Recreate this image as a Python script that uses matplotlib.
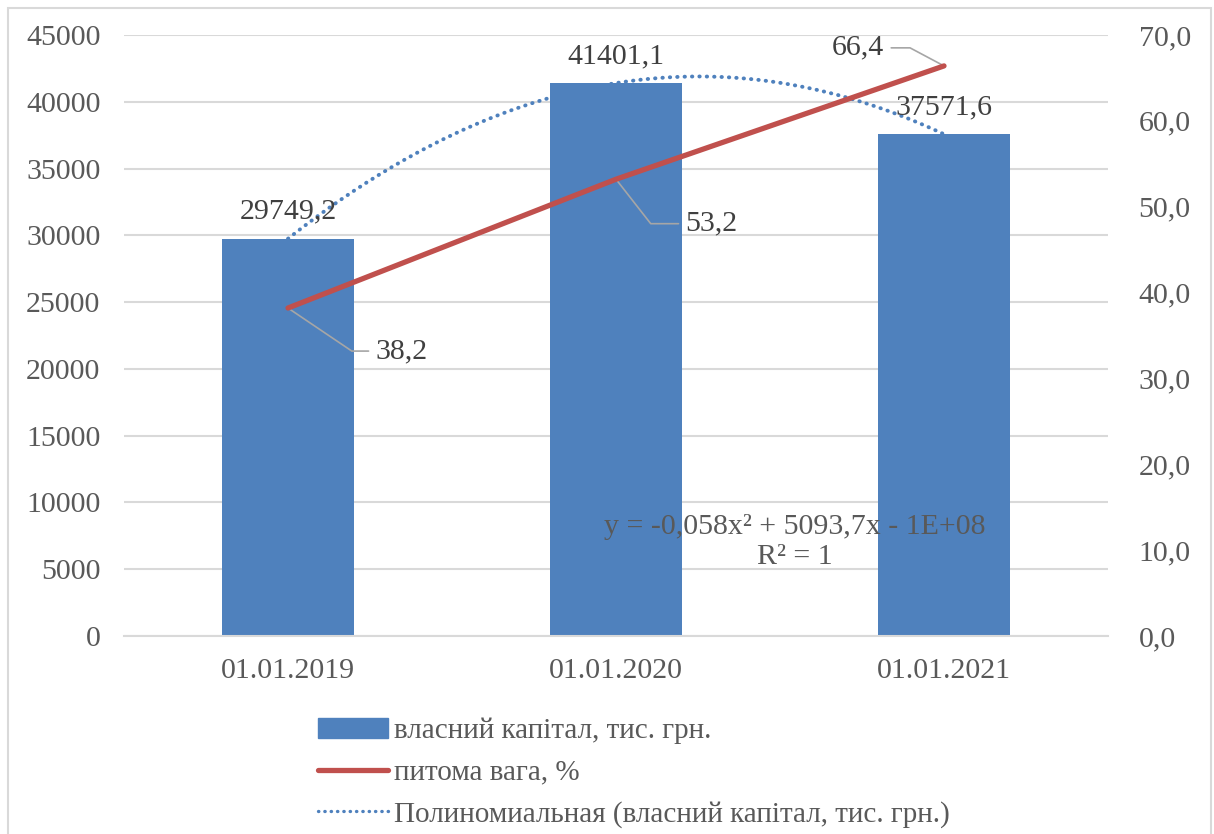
import numpy as np
import matplotlib.pyplot as plt
from matplotlib.patches import Patch, Rectangle
from matplotlib.lines import Line2D

# Data
dates = ['01.01.2019', '01.01.2020', '01.01.2021']
capital = [29749.2, 41401.1, 37571.6]          # власний капітал, тис. грн.
share = [38.2, 53.2, 66.4]                     # питома вага, %
capital_labels = ['29749,2', '41401,1', '37571,6']
share_labels = ['38,2', '53,2', '66,4']
left_ticks = [0, 5000, 10000, 15000, 20000, 25000, 30000, 35000, 40000, 45000]
right_ticks = [0, 10, 20, 30, 40, 50, 60, 70]

BLUE = '#4F81BD'
RED = '#C0504D'
GRID = '#D9D9D9'
TXT = '#595959'
FS = 21.5

plt.rcParams['font.family'] = ['Liberation Serif', 'DejaVu Serif']

fig = plt.figure(figsize=(12.14, 8.34), dpi=100)
ax = fig.add_axes([124/1214, 1-636/834, 984/1214, 601/834])
ax2 = ax.twinx()

x = np.arange(len(dates))
ax.bar(x, capital, width=0.405, color=BLUE, zorder=2)
ax.set_xlim(-0.5, 2.5)
ax.set_ylim(0, 45000)
ax.set_yticks(left_ticks)
ax.set_yticklabels([str(t) for t in left_ticks])
ax.set_xticks(x)
ax.set_xticklabels(dates)
ax.grid(axis='y', color=GRID, linewidth=1.5, zorder=0)
ax.set_axisbelow(True)
for s in ['top', 'left', 'right']:
    ax.spines[s].set_visible(False)
ax.spines['bottom'].set_color(GRID)
ax.spines['bottom'].set_linewidth(1.5)
ax.tick_params(length=0, labelsize=FS, labelcolor=TXT)
ax.tick_params(axis='y', pad=17)
ax.tick_params(axis='x', pad=16)

# polynomial trend (2nd order) through bar values
coef = np.polyfit(x, capital, 2)
xs = np.linspace(0, 2, 200)
ax.plot(xs, np.polyval(coef, xs), color=BLUE, linewidth=2.8,
        linestyle=(0, (0.1, 1.8)), dash_capstyle='round', zorder=3)

for xi, v, lab in zip(x, capital, capital_labels):
    ax.annotate(lab, (xi, v), xytext=(0, 10), textcoords='offset points',
                ha='center', va='bottom', fontsize=FS, color='#404040', zorder=5)

# right axis line
ax2.plot(x, share, color=RED, linewidth=3.8, solid_capstyle='round', zorder=4)
ax2.set_ylim(0, 70)
ax2.set_yticks(right_ticks)
ax2.set_yticklabels([f'{t:.1f}'.replace('.', ',') for t in right_ticks])
for s in ['top', 'left', 'right', 'bottom']:
    ax2.spines[s].set_visible(False)
ax2.tick_params(length=0, labelsize=FS, labelcolor=TXT, pad=22)

# leader-line labels for share: (text offset in points, angle of the slanted part)
offsets = [(63, -31), (50, -32), (-43, 13)]
angles = [-34, -52, 152]
for xi, v, lab, off, ang in zip(x, share, share_labels, offsets, angles):
    ha = 'left' if off[0] > 0 else 'right'
    ax2.annotate(lab, (xi, v), xytext=off, textcoords='offset points',
                 ha=ha, va='center', fontsize=FS, color='#404040',
                 arrowprops=dict(arrowstyle='-', color='#A6A6A6', lw=1.2,
                                 connectionstyle='angle,angleA=0,angleB=%d,rad=0' % ang,
                                 shrinkA=3, shrinkB=0))

fig.text(795/1214, 1-542/834, 'y = -0,058x² + 5093,7x - 1E+08\nR² = 1',
         ha='center', va='center', fontsize=FS, color=TXT, linespacing=1.15)

handles = [Patch(facecolor=BLUE, edgecolor=BLUE),
           Line2D([], [], color=RED, linewidth=3.8, solid_capstyle='round'),
           Line2D([], [], color=BLUE, linewidth=2.4, linestyle=(0, (0.1, 1.8)),
                  dash_capstyle='round')]
labels = ['власний капітал, тис. грн.', 'питома вага, %',
          'Полиномиальная (власний капітал, тис. грн.)']
leg = fig.legend(handles, labels, loc='upper left',
                 bbox_to_anchor=(306/1214, 1-706/834), frameon=False,
                 fontsize=21, handlelength=2.4, handletextpad=0.2,
                 labelspacing=0.52, borderaxespad=0)
for t in leg.get_texts():
    t.set_color(TXT)

fig.patches.append(Rectangle((8/1214, -0.01), 1203/1214, 1-8/834 + 0.01,
                             transform=fig.transFigure, fill=False,
                             edgecolor=GRID, linewidth=1.5))

fig.savefig('out.png', dpi=100)
